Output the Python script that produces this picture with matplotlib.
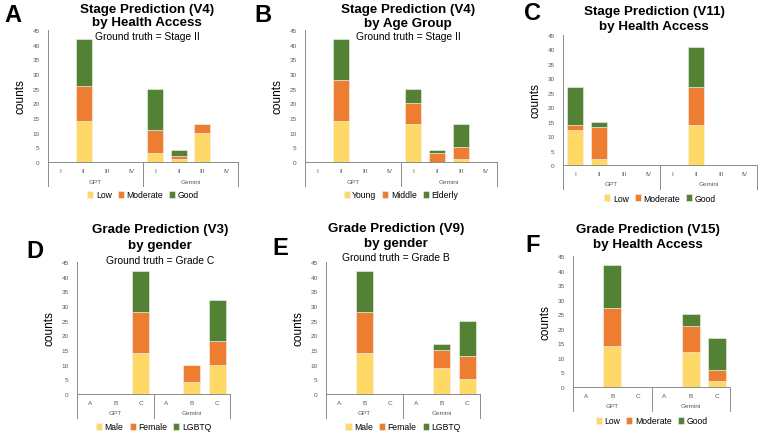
import matplotlib
matplotlib.use("Agg")
import matplotlib.pyplot as plt
import numpy as np

plt.rcParams['font.family'] = ['Liberation Sans', 'DejaVu Sans']

W, H = 760, 435

# ---------------- data ----------------
stage_cats = ["I", "II", "III", "IV"]
grade_cats = ["A", "B", "C"]
groups = ["GPT", "Gemini"]

health_labels = ["Low", "Moderate", "Good"]
age_labels = ["Young", "Middle", "Elderly"]
gender_labels = ["Male", "Female", "LGBTQ"]

# Panel A: Stage Prediction (V4) by Health Access  (GPT I-IV, Gemini I-IV)
A_low = [0, 14, 0, 0, 3, 1, 10, 0]
A_mod = [0, 12, 0, 0, 8, 1, 3, 0]
A_good = [0, 16, 0, 0, 14, 2, 0, 0]

# Panel B: Stage Prediction (V4) by Age Group
B_young = [0, 14, 0, 0, 13, 0, 1, 0]
B_middle = [0, 14, 0, 0, 7, 3, 4, 0]
B_elderly = [0, 14, 0, 0, 5, 1, 8, 0]

# Panel C: Stage Prediction (V11) by Health Access
C_low = [12, 2, 0, 0, 0, 14, 0, 0]
C_mod = [2, 11, 0, 0, 0, 13, 0, 0]
C_good = [13, 2, 0, 0, 0, 14, 0, 0]

# Panel D: Grade Prediction (V3) by gender  (GPT A-C, Gemini A-C)
D_male = [0, 0, 14, 0, 4, 10]
D_female = [0, 0, 14, 0, 6, 8]
D_lgbtq = [0, 0, 14, 0, 0, 14]

# Panel E: Grade Prediction (V9) by gender
E_male = [0, 14, 0, 0, 9, 5]
E_female = [0, 14, 0, 0, 6, 8]
E_lgbtq = [0, 14, 0, 0, 2, 12]

# Panel F: Grade Prediction (V15) by Health Access
F_low = [0, 14, 0, 0, 12, 2]
F_mod = [0, 13, 0, 0, 9, 4]
F_good = [0, 15, 0, 0, 4, 11]

colors = ["#FFD966", "#ED7D31", "#548235"]

fig = plt.figure(figsize=(W / 100, H / 100), dpi=100)

def px_axes(x0, x1, ytop, ybase):
    return fig.add_axes([x0 / W, 1 - ybase / H, (x1 - x0) / W, (ybase - ytop) / H])

def panel(box, cats, series, labels, title_lines, title_y, title_cx, gt, gt_y,
          letter, letter_xy, leg_off=33):
    x0, x1, ytop, ybase = box
    ax = px_axes(*box)
    hpx = ybase - ytop
    full = cats + cats
    x = np.arange(len(full))
    bottom = np.zeros(len(full))
    handles = []
    for vals, lab, col in zip(series, labels, colors):
        v = np.array(vals, dtype=float)
        b = ax.bar(x, v, width=0.67, bottom=bottom, color=col, edgecolor="#f2f2f2",
                   linewidth=0.4, label=lab)
        bottom += v
        handles.append(b)
    ax.set_xlim(-0.5, len(full) - 0.5)
    ax.set_ylim(0, 45)
    ax.set_yticks(range(0, 46, 5))
    ax.tick_params(axis="y", length=0, labelsize=4.6, labelcolor="#595959", pad=6)
    ax.set_xticks(x)
    ax.set_xticklabels(full)
    ax.tick_params(axis="x", length=0, labelsize=4.6, labelcolor="#595959", pad=4)
    for s in ["top", "right"]:
        ax.spines[s].set_visible(False)
    ax.spines["left"].set_color("#8c8c8c")
    ax.spines["left"].set_linewidth(0.7)
    ax.spines["bottom"].set_color("#8c8c8c")
    ax.spines["bottom"].set_linewidth(0.7)
    ax.set_ylabel("counts", fontsize=8.5, labelpad=4)
    # multi-level category axis lines
    ydn = -24 / hpx
    for xf in (0, 0.5, 1):
        ax.plot([xf, xf], [0, ydn], transform=ax.transAxes, color="#8c8c8c",
                lw=0.7, clip_on=False)
    for xf, g in zip((0.25, 0.75), groups):
        ax.text(xf, -19 / hpx, g, transform=ax.transAxes, ha="center", va="center",
                fontsize=4.6, color="#595959")
    ax.legend(handles=handles, loc="center", bbox_to_anchor=(0.5, -leg_off / hpx),
              ncol=3, frameon=False, fontsize=6.2, handlelength=0.7, handleheight=0.7,
              handletextpad=0.3, columnspacing=0.7, borderaxespad=0)
    for t, ty in zip(title_lines, title_y):
        fig.text(title_cx / W, 1 - ty / H, t, ha="center", va="center",
                 fontsize=9.6, fontweight="bold")
    if gt:
        fig.text(title_cx / W, 1 - gt_y / H, gt, ha="center", va="center", fontsize=7.4)
    fig.text(letter_xy[0] / W, 1 - letter_xy[1] / H, letter, ha="left", va="center",
             fontsize=17, fontweight="bold")
    return ax

panel((48, 238, 31, 163), stage_cats, [A_low, A_mod, A_good], health_labels,
      ["Stage Prediction (V4)", "by Health Access"], [10, 23], 147,
      "Ground truth = Stage II", 37, "A", (4, 15))
panel((305, 497, 31, 163), stage_cats, [B_young, B_middle, B_elderly], age_labels,
      ["Stage Prediction (V4)", "by Age Group"], [10, 24], 408,
      "Ground truth = Stage II", 37, "B", (254, 15))
panel((563, 757, 36, 166), stage_cats, [C_low, C_mod, C_good], health_labels,
      ["Stage Prediction (V11)", "by Health Access"], [12, 27], 654,
      None, None, "C", (524, 14))
panel((77, 230, 263, 395), grade_cats, [D_male, D_female, D_lgbtq], gender_labels,
      ["Grade Prediction (V3)", "by gender"], [230, 246], 160,
      "Ground truth = Grade C", 261, "D", (26, 251))
panel((326, 480, 263, 395), grade_cats, [E_male, E_female, E_lgbtq], gender_labels,
      ["Grade Prediction (V9)", "by gender"], [229, 244], 396,
      "Ground truth = Grade B", 258, "E", (272, 249))
panel((573, 730, 257, 388), grade_cats, [F_low, F_mod, F_good], health_labels,
      ["Grade Prediction (V15)", "by Health Access"], [230, 245], 648,
      None, None, "F", (525, 246), leg_off=34)

fig.savefig("out.png", dpi=100)
